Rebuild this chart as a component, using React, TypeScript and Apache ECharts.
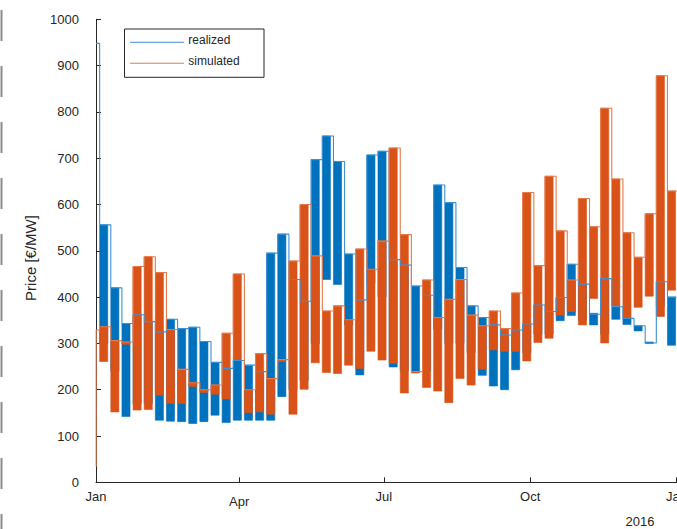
import React, { useEffect, useRef } from "react";
import * as echarts from "echarts";

// Weekly price bands for 2015 (weekday range low..high, weekend level)
const realizedHigh = [556, 420, 343, 362, 347, 325, 352, 332, 335, 304, 259, 246, 263, 253, 239, 495, 536, 438, 391, 697, 748, 693, 493, 394, 707, 715, 481, 469, 424, 404, 642, 604, 464, 381, 356, 340, 318, 329, 342, 383, 369, 399, 471, 428, 365, 440, 379, 354, 338, 303, 433, 400];
const realizedLow = [300, 240, 142, 170, 170, 134, 132, 131, 127, 131, 145, 129, 134, 134, 134, 134, 185, 200, 220, 300, 438, 427, 340, 232, 430, 400, 249, 240, 240, 240, 330, 300, 300, 280, 231, 208, 200, 243, 280, 320, 320, 349, 360, 350, 340, 320, 352, 341, 327, 300, 380, 296];
const realizedWeekend = [556, 420, 343, 362, 347, 325, 352, 332, 335, 304, 259, 246, 263, 253, 239, 495, 536, 438, 391, 697, 748, 693, 493, 394, 707, 715, 481, 469, 424, 404, 642, 604, 464, 381, 356, 340, 318, 329, 342, 383, 369, 399, 471, 428, 363, 440, 379, 354, 338, 301, 433, 400];

const simulatedHigh = [336, 306, 303, 466, 487, 453, 330, 244, 215, 200, 210, 322, 450, 200, 278, 224, 265, 478, 600, 489, 370, 381, 351, 504, 460, 521, 722, 535, 239, 437, 356, 395, 438, 361, 338, 370, 332, 409, 626, 468, 661, 543, 437, 613, 552, 808, 655, 539, 486, 580, 878, 629];
const simulatedLow = [261, 152, 298, 156, 157, 188, 170, 170, 207, 194, 190, 180, 263, 150, 152, 147, 261, 147, 201, 258, 237, 235, 253, 246, 283, 264, 257, 193, 236, 205, 197, 172, 224, 210, 244, 286, 283, 283, 262, 302, 311, 361, 369, 340, 397, 301, 381, 354, 378, 402, 358, 415];
const simulatedWeekend = simulatedHigh;

// New-year days before the first full week: [day, price] steps
const realizedNewYear = [[0, 948], [2.3, 948]];
const simulatedNewYear = [[0.1, 34], [0.1, 329], [2.3, 329]];

// x axis: days since 1 Jan 2015
const monthTicks = [0, 90, 181, 273, 365];
const monthNames = ["Jan", "Apr", "Jul", "Oct", "Jan"];
const yTicks = [0, 1000, 100];

const FIRST_WEEK_DAY = 2.3;
const WEEKDAY_SPAN = 5.1;

const BLUE = "#0072BD";
const ORANGE = "#D95319";
const BLUE_LINE = "#3f90d2";
const ORANGE_LINE = "#e37a4c";
const INK = "#262626";
const FONT = "'Liberation Sans', Arial, Helvetica, sans-serif";

function weekStart(i: number) {
  return FIRST_WEEK_DAY + 7 * i;
}

function bands(high: number[], low: number[]) {
  return high.map((h, i) => [weekStart(i), weekStart(i) + WEEKDAY_SPAN, low[i], h]);
}

function stairs(lead: number[][], weekend: number[]) {
  const pts: number[][] = lead.map((p) => [p[0], p[1]]);
  weekend.forEach((v, i) => {
    pts.push([weekStart(i), v]);
    pts.push([Math.min(weekStart(i) + 7, 365), v]);
  });
  return pts;
}

function bandSeries(name: string, color: string, high: number[], low: number[]) {
  return {
    name,
    type: "custom",
    clip: true,
    data: bands(high, low),
    encode: { x: [0, 1], y: [2, 3] },
    renderItem: (_params: any, api: any) => {
      const p0 = api.coord([api.value(0), api.value(3)]);
      const p1 = api.coord([api.value(1), api.value(2)]);
      return {
        type: "rect",
        shape: { x: p0[0], y: p0[1], width: p1[0] - p0[0], height: p1[1] - p0[1] },
        style: { fill: color, stroke: color, lineWidth: 0.6 },
      };
    },
  };
}

function lineSeries(name: string, color: string, data: number[][]) {
  return {
    name,
    type: "line",
    data,
    symbol: "none",
    smooth: false,
    lineStyle: { color, width: 1.1 },
    clip: true,
  };
}

export default function App() {
  const ref = useRef<HTMLDivElement>(null);

  useEffect(() => {
    if (!ref.current) return;
    const chart = echarts.init(ref.current, null, { renderer: "svg" });
    const legendX = 124.5;
    const legendY = 29;
    chart.setOption({
      animation: false,
      backgroundColor: "#ffffff",
      grid: { left: 96, right: 8.2, top: 19.3, bottom: 46.7, containLabel: false },
      xAxis: {
        type: "value",
        min: monthTicks[0],
        max: monthTicks[monthTicks.length - 1],
        splitLine: { show: false },
        axisLine: { show: true, lineStyle: { color: INK, width: 1 } },
        axisTick: {
          show: true,
          inside: true,
          length: 5,
          customValues: monthTicks,
          lineStyle: { color: INK },
        },
        axisLabel: {
          customValues: monthTicks,
          margin: 8,
          color: INK,
          fontFamily: FONT,
          fontSize: 13,
          formatter: (v: number) => {
            const k = monthTicks.indexOf(Math.round(v));
            const label = k >= 0 ? monthNames[k] : "";
            return label === "Apr" ? "{low|" + label + "}" : label;
          },
          rich: { low: { padding: [5, 0, 0, 0], fontFamily: FONT, fontSize: 13, color: INK } },
        },
      },
      yAxis: {
        type: "value",
        min: yTicks[0],
        max: yTicks[1],
        interval: yTicks[2],
        splitLine: { show: false },
        axisLine: { show: true, lineStyle: { color: INK, width: 1 } },
        axisTick: { show: true, inside: true, length: 5, lineStyle: { color: INK } },
        axisLabel: {
          margin: 17,
          color: INK,
          fontFamily: FONT,
          fontSize: 13,
          formatter: (v: number) => String(v),
        },
      },
      series: [
        lineSeries("realized", BLUE_LINE, stairs(realizedNewYear, realizedWeekend)),
        bandSeries("realized band", BLUE, realizedHigh, realizedLow),
        lineSeries("simulated", ORANGE_LINE, stairs(simulatedNewYear, simulatedWeekend)),
        bandSeries("simulated band", ORANGE, simulatedHigh, simulatedLow),
      ],
      graphic: [
        {
          type: "line",
          shape: { x1: 1.5, y1: 10, x2: 1.5, y2: 529 },
          style: { stroke: "#8c8c8c", lineWidth: 2, lineDash: [31, 25] },
        },
        {
          type: "text",
          x: 30,
          y: 258,
          rotation: Math.PI / 2,
          style: {
            text: "Price [€/MW]",
            fill: INK,
            font: "15px " + FONT,
            align: "center",
            verticalAlign: "middle",
          },
        },
        {
          type: "text",
          x: 640,
          y: 521,
          style: {
            text: "2016",
            fill: INK,
            font: "13px " + FONT,
            align: "center",
            verticalAlign: "middle",
          },
        },
        {
          type: "rect",
          shape: { x: legendX, y: legendY, width: 139.5, height: 48.3 },
          style: { fill: "#ffffff", stroke: INK, lineWidth: 1 },
          z: 100,
        },
        {
          type: "line",
          shape: { x1: 130, y1: 42.3, x2: 184, y2: 42.3 },
          style: { stroke: BLUE_LINE, lineWidth: 1.1 },
          z: 101,
        },
        {
          type: "line",
          shape: { x1: 130, y1: 63.3, x2: 184, y2: 63.3 },
          style: { stroke: ORANGE_LINE, lineWidth: 1.1 },
          z: 101,
        },
        {
          type: "text",
          x: 188.3,
          y: 39.5,
          style: { text: "realized", fill: INK, font: "12px " + FONT, verticalAlign: "middle" },
          z: 101,
        },
        {
          type: "text",
          x: 188.3,
          y: 61,
          style: { text: "simulated", fill: INK, font: "12px " + FONT, verticalAlign: "middle" },
          z: 101,
        },
      ],
    });
    return () => chart.dispose();
  }, []);

  return (
    <div
      style={{
        position: "fixed",
        left: 0,
        top: 0,
        width: 677,
        height: 529,
        overflow: "hidden",
        background: "#ffffff",
      }}
    >
      <div ref={ref} style={{ width: 690, height: 529 }} />
    </div>
  );
}
